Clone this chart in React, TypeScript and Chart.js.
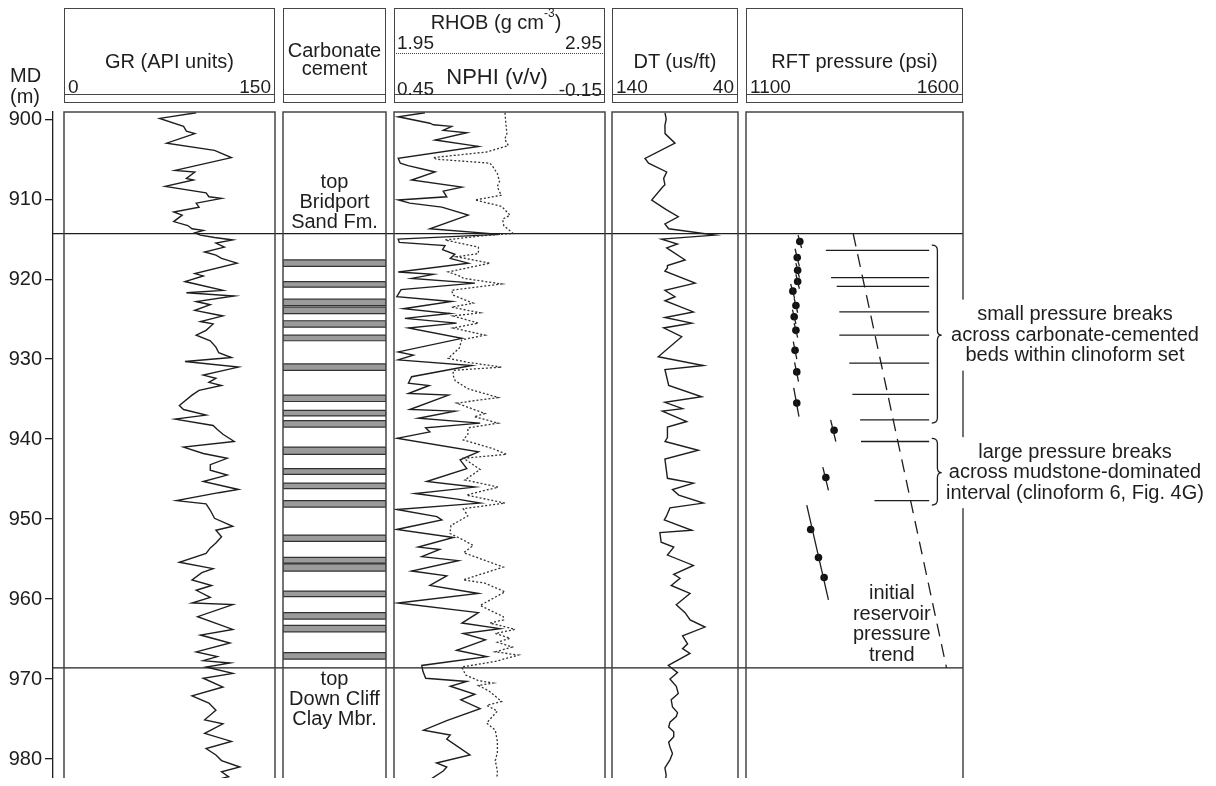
import React, { useEffect, useRef } from "react";
import { Chart, registerables } from "chart.js";

Chart.register(...registerables);

const FONT = '"Liberation Sans", Arial, Helvetica, sans-serif';
Chart.defaults.font.family = FONT;
const INK = "#1e1e1e";
const FRAME = "#454545";

/* ------------------------------------------------------------------ */
/* DATA                                                                */
/* ------------------------------------------------------------------ */
const depthMin = 899.1;
const depthMax = 983.25;
const depthTicks = [900, 910, 920, 930, 940, 950, 960, 970, 980];
const formationTops = [914.3, 968.6];

// [depth m, GR API]
const grLog = [
  [899.2, 94], [899.9, 68], [900.9, 85], [901.5, 87], [901.8, 93], [903.0, 73], [903.9, 107], [904.8, 119], [906.4, 79], [906.6, 93],
  [907.4, 87], [907.6, 92], [908.4, 72], [909.2, 101], [909.7, 103], [909.9, 112], [910.5, 94], [911.0, 96], [911.6, 78], [912.0, 84],
  [912.8, 78], [913.3, 88], [913.7, 91], [913.9, 99], [914.2, 93], [914.5, 97], [914.8, 107], [915.1, 120], [915.5, 108], [916.0, 114],
  [916.6, 100], [917.0, 108], [917.4, 112], [918.0, 123], [919.3, 93], [919.6, 99], [920.3, 86], [921.4, 113], [921.7, 87], [922.1, 121],
  [922.8, 94], [923.2, 104], [923.9, 93], [924.6, 113], [925.3, 97], [925.6, 106], [926.4, 101], [927.0, 94], [927.7, 104], [928.5, 108],
  [929.2, 110], [929.8, 119], [930.3, 86], [931.0, 124], [932.0, 99], [932.4, 108], [932.9, 103], [933.3, 112], [933.9, 96], [934.5, 91],
  [935.8, 82], [936.3, 85], [937.0, 101], [937.5, 79], [938.3, 106], [938.8, 109], [939.4, 113], [940.3, 121], [941.0, 85], [941.8, 99],
  [942.4, 116], [943.2, 104], [943.9, 104], [944.5, 116], [945.3, 99], [946.3, 124], [946.7, 110], [947.7, 80], [948.1, 101], [948.9, 104],
  [949.9, 107], [950.9, 120], [951.4, 108], [952.2, 112], [953.0, 108], [953.6, 104], [954.3, 101], [955.4, 82], [956.2, 106], [956.7, 98],
  [957.6, 91], [958.3, 105], [958.9, 94], [959.8, 104], [960.5, 91], [960.7, 120], [962.2, 95], [963.8, 120], [964.5, 97], [965.5, 118],
  [966.6, 94], [967.2, 109], [967.7, 99], [968.0, 118], [968.5, 101], [969.3, 120], [969.9, 99], [971.0, 113], [972.1, 91], [973.0, 103],
  [973.9, 108], [975.1, 100], [975.6, 113], [976.8, 100], [977.8, 119], [978.7, 101], [979.5, 108], [980.2, 112], [981.0, 125], [981.6, 112],
  [982.2, 117], [982.6, 108], [983.1, 102],
];

// [depth m, NPHI v/v]
const nphiLog = [
  [899.2, 0.362], [899.7, 0.438], [900.5, 0.348], [900.7, 0.338], [900.9, 0.286], [901.4, 0.31], [901.7, 0.243], [902.6, 0.333], [903.4, 0.21], [904.9, 0.438],
  [905.5, 0.432], [905.8, 0.41], [906.6, 0.333], [907.6, 0.4], [908.5, 0.257], [909.0, 0.31], [909.7, 0.3], [910.1, 0.438], [910.5, 0.405], [911.0, 0.314],
  [912.0, 0.239], [913.7, 0.348], [914.4, 0.149], [915.0, 0.438], [915.4, 0.435], [915.8, 0.305], [916.3, 0.312], [916.9, 0.277], [917.4, 0.29], [918.0, 0.239],
  [919.1, 0.438], [919.4, 0.338], [919.9, 0.4], [920.5, 0.22], [921.3, 0.43], [922.2, 0.442], [922.8, 0.286], [923.7, 0.423], [924.3, 0.291], [924.9, 0.419],
  [925.5, 0.272], [926.1, 0.409], [927.4, 0.257], [929.1, 0.438], [929.5, 0.395], [930.1, 0.438], [930.8, 0.229], [932.2, 0.4], [933.0, 0.409], [933.3, 0.35],
  [934.3, 0.409], [934.5, 0.295], [936.3, 0.405], [936.5, 0.277], [937.4, 0.381], [938.0, 0.205], [938.6, 0.36], [939.1, 0.348], [939.9, 0.442], [941.6, 0.21],
  [942.6, 0.262], [943.7, 0.243], [945.3, 0.357], [946.0, 0.22], [946.8, 0.39], [947.5, 0.27], [948.0, 0.205], [948.8, 0.442], [949.7, 0.328], [950.1, 0.314],
  [951.3, 0.442], [952.3, 0.281], [953.5, 0.381], [953.8, 0.32], [954.7, 0.371], [955.2, 0.267], [956.5, 0.4], [957.1, 0.3], [958.3, 0.348], [959.3, 0.21],
  [960.5, 0.438], [961.7, 0.21], [963.0, 0.257], [963.7, 0.149], [964.3, 0.253], [965.1, 0.19], [966.4, 0.272], [967.2, 0.186], [968.3, 0.371], [969.0, 0.368],
  [969.9, 0.36], [970.3, 0.243], [970.9, 0.29], [971.9, 0.22], [972.6, 0.26], [973.7, 0.205], [975.2, 0.3], [976.4, 0.366], [977.0, 0.29], [977.5, 0.3],
  [979.5, 0.234], [980.5, 0.329], [981.0, 0.3], [981.5, 0.31], [983.1, 0.366],
];

// [depth m, RHOB g/cm3]
const rhobLog = [
  [899.2, 2.476], [900.5, 2.48], [901.8, 2.485], [902.5, 2.475], [903.3, 2.492], [904.1, 2.389], [904.8, 2.136], [905.0, 2.15], [905.5, 2.405], [906.0, 2.42],
  [906.8, 2.44], [907.8, 2.45], [908.4, 2.44], [909.0, 2.448], [909.5, 2.46], [910.1, 2.334], [910.9, 2.46], [912.0, 2.5], [912.5, 2.465], [913.3, 2.47],
  [914.3, 2.515], [914.5, 2.397], [915.1, 2.192], [916.0, 2.35], [916.8, 2.35], [917.2, 2.247], [918.0, 2.405], [919.1, 2.207], [919.6, 2.26], [919.9, 2.28],
  [920.6, 2.46], [921.4, 2.223], [922.0, 2.23], [923.0, 2.326], [923.5, 2.223], [924.2, 2.358], [924.6, 2.23], [925.5, 2.35], [926.1, 2.23], [927.0, 2.381],
  [927.6, 2.271], [928.6, 2.26], [929.9, 2.207], [930.4, 2.3], [931.0, 2.46], [931.4, 2.231], [932.0, 2.23], [932.7, 2.24], [933.7, 2.3], [934.8, 2.444],
  [935.5, 2.247], [936.8, 2.381], [937.2, 2.33], [938.0, 2.444], [938.6, 2.3], [939.4, 2.3], [940.1, 2.278], [941.2, 2.42], [941.9, 2.484], [942.4, 2.28],
  [943.8, 2.358], [945.1, 2.286], [946.0, 2.444], [947.0, 2.294], [948.0, 2.476], [948.7, 2.278], [949.6, 2.3], [950.8, 2.22], [951.8, 2.215], [952.5, 2.27],
  [953.3, 2.326], [954.2, 2.28], [956.0, 2.468], [957.6, 2.278], [958.0, 2.38], [959.1, 2.476], [960.8, 2.358], [962.2, 2.468], [962.6, 2.47], [963.0, 2.405],
  [963.8, 2.523], [964.3, 2.43], [964.9, 2.5], [965.4, 2.44], [966.0, 2.51], [966.6, 2.43], [967.0, 2.54], [967.8, 2.43], [968.5, 2.271], [969.5, 2.29],
  [970.2, 2.35], [970.5, 2.42], [970.8, 2.35], [971.5, 2.4], [972.8, 2.46], [973.3, 2.39], [974.0, 2.44], [975.5, 2.389], [976.4, 2.43], [977.8, 2.44],
  [979.2, 2.44], [980.2, 2.43], [981.5, 2.44], [982.6, 2.437], [983.2, 2.44],
];

// [depth m, DT us/ft]
const dtLog = [
  [899.2, 97.9], [900.0, 97], [900.8, 98], [901.8, 97.9], [903.0, 90], [904.9, 113.8], [905.5, 111], [906.6, 96.6], [907.4, 99], [908.2, 98],
  [908.5, 100], [910.1, 108.5], [911.3, 97], [912.2, 87.4], [913.1, 98], [913.7, 95], [914.5, 58.3], [915.0, 100.6], [915.6, 88], [916.1, 96.6],
  [917.6, 82], [918.3, 96], [918.6, 96], [919.0, 98], [920.5, 74], [921.4, 98], [922.2, 90], [922.7, 98], [924.1, 75.4], [924.8, 98],
  [925.5, 76.7], [926.1, 99], [927.2, 84.7], [929.7, 103.3], [930.8, 67.5], [931.3, 98], [933.3, 95], [934.7, 68.8], [935.4, 98], [936.2, 84],
  [936.5, 100], [937.8, 80.7], [938.5, 96], [939.8, 96], [940.3, 97.9], [941.4, 71.5], [942.5, 98], [944.9, 96], [945.5, 75.4], [946.3, 92],
  [947.0, 87], [948.0, 67.5], [948.6, 94], [949.7, 97], [950.1, 98.5], [951.4, 76.7], [951.7, 102], [952.9, 101], [953.5, 91], [954.5, 96],
  [955.8, 75.4], [956.9, 91], [957.4, 86], [958.3, 93], [959.3, 78.1], [960.7, 89], [961.7, 82], [962.6, 78], [963.5, 66.2], [964.6, 84],
  [965.6, 80], [966.2, 84], [966.8, 78.1], [968.3, 95.3], [969.2, 88], [970.0, 94], [970.9, 89], [971.8, 87.4], [972.6, 93], [973.5, 92],
  [974.2, 88], [974.7, 89], [975.4, 94], [976.0, 95], [976.6, 91], [977.2, 91], [977.9, 95], [978.5, 94], [979.3, 92], [980.1, 94],
  [980.6, 96], [981.1, 98], [982.0, 97], [983.2, 98],
];

// carbonate-cemented beds [top, base] m
const cementBeds = [
  [917.6, 918.4], [920.3, 921.0], [922.5, 923.3], [923.5, 924.3], [925.2, 926.0], [927.0, 927.7], [930.6, 931.4],
  [934.5, 935.3], [936.4, 937.1], [937.7, 938.5], [941.0, 941.9], [943.7, 944.4], [945.5, 946.2], [947.7, 948.5],
  [952.0, 952.8], [954.8, 955.5], [955.6, 956.5], [959.0, 959.7], [961.7, 962.5], [963.3, 964.1], [966.7, 967.5],
];

// RFT measurements [depth m, pressure psi]
const rftPoints = [
  [915.3, 1224], [917.3, 1218], [918.9, 1219], [920.3, 1219], [921.5, 1208], [923.3, 1215], [924.7, 1211], [926.4, 1215],
  [928.9, 1213], [931.6, 1217], [935.5, 1217], [938.9, 1303], [944.8, 1284], [951.3, 1249], [954.8, 1267], [957.3, 1280],
];
// local pressure gradients [topDepth, topP, baseDepth, baseP]
const rftGradients = [
  [914.5, 1220, 916.1, 1228], [916.2, 1213, 918.4, 1223], [918.0, 1215, 919.8, 1223], [919.4, 1215, 921.2, 1223],
  [920.6, 1203, 922.4, 1212], [922.4, 1211, 924.2, 1219], [923.8, 1207, 925.6, 1215], [925.5, 1211, 927.3, 1219],
  [927.8, 1209, 930.0, 1217], [930.4, 1212, 932.8, 1221], [933.6, 1210, 937.2, 1222], [937.6, 1295, 940.3, 1307],
  [943.5, 1277, 946.4, 1290], [948.25, 1240, 960.1, 1290],
];
// pressure breaks [depth m, start psi]
const pressureBreaks = [
  [916.4, 1284], [919.8, 1296], [920.9, 1309], [924.1, 1315], [927.0, 1315],
  [930.5, 1338], [934.4, 1345], [937.6, 1363], [940.3, 1365], [947.7, 1396],
];
const breakEndPressure = 1522;
// initial reservoir pressure trend [depth m, psi]
const initialTrend = [[914.3, 1347], [968.6, 1562]];

// annotation anchors
const bracketSpans = [[915.75, 927.0, 938.0], [939.9, 944.2, 948.25]];
const bracketNotes = [
  ["small pressure breaks", "across carbonate-cemented", "beds within clinoform set"],
  ["large pressure breaks", "across mudstone-dominated", "interval (clinoform 6, Fig. 4G)"],
];
const trendNote = ["initial", "reservoir", "pressure", "trend"];
const formationLabels = [
  { depth: 910.4, lines: ["top", "Bridport", "Sand Fm."] },
  { depth: 972.6, lines: ["top", "Down Cliff", "Clay Mbr."] },
];

/* ------------------------------------------------------------------ */
/* LAYOUT (page px)                                                    */
/* ------------------------------------------------------------------ */
const OFF = 8;
const TRACK_TOP = 112;
const TRACK_BOTTOM = 785;
const HEADER_TOP = 8;
const HEADER_BOTTOM = 103;
const HEADER_INNER = 95;
const AXIS_X = 53;
const RIGHT_EDGE = 963;
const T_GR: [number, number] = [64, 275];
const T_CARB: [number, number] = [283, 386];
const T_RHOB: [number, number] = [394, 605];
const T_DT: [number, number] = [612, 738];
const T_RFT: [number, number] = [746, 963];
const BRACKET_HOOK_P = 1528;
const BRACKET_SPINE_P = 1541;
const BRACKET_NUB_P = 1551;
const NOTE_CENTER_P = 1858;
const TREND_NOTE_P = 1436;
const TREND_NOTE_DEPTH = 963.15;
const NOTE_LINE = 20.5;

const toXY = (pairs: number[][]) => pairs.map(([d, v]) => ({ x: v, y: d }));

const framePlugin = {
  id: "frame",
  afterDatasetsDraw(chart: any) {
    const { ctx, chartArea: a } = chart;
    ctx.save();
    ctx.strokeStyle = FRAME;
    ctx.lineWidth = 1.5;
    ctx.strokeRect(a.left, a.top, a.right - a.left, a.bottom - a.top);
    ctx.restore();
  },
};

const carbLabelsPlugin = {
  id: "carbLabels",
  afterDraw(chart: any) {
    const { ctx, chartArea: a, scales } = chart;
    ctx.save();
    ctx.font = `20px ${FONT}`;
    ctx.fillStyle = INK;
    ctx.textAlign = "center";
    ctx.textBaseline = "middle";
    const cx = (a.left + a.right) / 2;
    formationLabels.forEach(({ depth, lines }) => {
      const ym = scales.y.getPixelForValue(depth);
      lines.forEach((t, k) => ctx.fillText(t, cx, ym + (k - (lines.length - 1) / 2) * 20));
    });
    ctx.restore();
  },
};

const rftNotesPlugin = {
  id: "rftNotes",
  afterDraw(chart: any) {
    const { ctx, scales } = chart;
    const xs = scales.x;
    const ys = scales.y;
    ctx.save();
    ctx.font = `20px ${FONT}`;
    ctx.textAlign = "center";
    ctx.textBaseline = "middle";
    ctx.lineWidth = 1.3;
    ctx.strokeStyle = INK;
    const xl = xs.getPixelForValue(BRACKET_HOOK_P);
    const xm = xs.getPixelForValue(BRACKET_SPINE_P);
    const xn = xs.getPixelForValue(BRACKET_NUB_P);
    const cx = xs.getPixelForValue(NOTE_CENTER_P);
    bracketSpans.forEach(([top, mid, base], i) => {
      const yt = ys.getPixelForValue(top);
      const ym = ys.getPixelForValue(mid);
      const yb = ys.getPixelForValue(base);
      const r = 5;
      ctx.beginPath();
      ctx.moveTo(xl, yt);
      ctx.quadraticCurveTo(xm, yt, xm, yt + r);
      ctx.lineTo(xm, ym - r);
      ctx.quadraticCurveTo(xm, ym, xn, ym);
      ctx.quadraticCurveTo(xm, ym, xm, ym + r);
      ctx.lineTo(xm, yb - r);
      ctx.quadraticCurveTo(xm, yb, xl, yb);
      ctx.stroke();
      const lines = bracketNotes[i];
      const w = Math.max(...lines.map((l) => ctx.measureText(l).width));
      const y0 = ym - (NOTE_LINE * (lines.length - 1)) / 2;
      ctx.fillStyle = "#fff";
      ctx.fillRect(cx - w / 2 - 4, y0 - 15, w + 8, NOTE_LINE * (lines.length - 1) + 30);
      ctx.fillStyle = INK;
      lines.forEach((l, k) => ctx.fillText(l, cx, y0 + k * NOTE_LINE));
    });
    const tx = xs.getPixelForValue(TREND_NOTE_P);
    const tc = ys.getPixelForValue(TREND_NOTE_DEPTH);
    const t0 = tc - (NOTE_LINE * (trendNote.length - 1)) / 2;
    ctx.fillStyle = INK;
    trendNote.forEach((l, k) => ctx.fillText(l, tx, t0 + k * NOTE_LINE));
    ctx.restore();
  },
};

const yDepth = { type: "linear", reverse: true, min: depthMin, max: depthMax, display: false };

function baseOptions(pad: any, xScales: any) {
  return {
    responsive: false,
    animation: false,
    events: [],
    layout: { padding: pad, autoPadding: false },
    plugins: { legend: { display: false }, tooltip: { enabled: false } },
    scales: { ...xScales, y: yDepth },
  };
}

const curve = (data: any, extra: any = {}) => ({
  data,
  showLine: true,
  borderColor: INK,
  borderWidth: 1.4,
  pointRadius: 0,
  tension: 0,
  fill: false,
  ...extra,
});

/* ------------------------------------------------------------------ */
/* CHART CONFIGS                                                       */
/* ------------------------------------------------------------------ */
const BASE_W = 1200;
const BASE_H = 778;

function depthAxisConfig() {
  return {
    type: "line",
    data: {
      datasets: formationTops.map((d) =>
        curve([{ x: 0, y: d }, { x: 1, y: d }], { borderWidth: 1.3 })
      ),
    },
    options: {
      responsive: false,
      animation: false,
      events: [],
      layout: {
        autoPadding: false,
        padding: {
          left: 0,
          top: TRACK_TOP - OFF,
          right: BASE_W - (RIGHT_EDGE - OFF),
          bottom: BASE_H - (TRACK_BOTTOM - OFF),
        },
      },
      plugins: { legend: { display: false }, tooltip: { enabled: false } },
      scales: {
        x: { type: "linear", min: 0, max: 1, display: false },
        y: {
          type: "linear",
          position: "left",
          reverse: true,
          min: depthMin,
          max: depthMax,
          afterFit: (s: any) => {
            s.width = AXIS_X - OFF;
            s.paddingTop = 0;
            s.paddingBottom = 0;
          },
          afterBuildTicks: (s: any) => {
            s.ticks = depthTicks.map((v) => ({ value: v }));
          },
          ticks: { color: INK, font: { size: 20, family: FONT }, padding: 3 },
          grid: { drawOnChartArea: false, drawTicks: true, tickLength: 8, color: INK, lineWidth: 1.3 },
          border: { display: true, color: INK, width: 1.3 },
        },
      },
    },
  };
}

const PAD = { left: 2, right: 2, top: 2, bottom: 2 };

function grConfig() {
  return {
    type: "scatter",
    data: { datasets: [curve(toXY(grLog))] },
    options: baseOptions(PAD, { x: { type: "linear", min: 0, max: 150, display: false } }),
    plugins: [framePlugin],
  };
}

function carbConfig() {
  return {
    type: "line",
    data: {
      datasets: cementBeds.map(([t, b]) =>
        curve(
          [{ x: 0, y: t }, { x: 1, y: t }, { x: 1, y: b }, { x: 0, y: b }, { x: 0, y: t }],
          { fill: "shape", backgroundColor: "#9b9b9b", borderColor: "#333", borderWidth: 1.2 }
        )
      ),
    },
    options: baseOptions(PAD, { x: { type: "linear", min: 0, max: 1, display: false } }),
    plugins: [framePlugin, carbLabelsPlugin],
  };
}

function rhobConfig() {
  return {
    type: "scatter",
    data: {
      datasets: [
        curve(toXY(rhobLog), { xAxisID: "xr", borderDash: [2, 2], borderWidth: 1.3, borderColor: "#333" }),
        curve(toXY(nphiLog), { xAxisID: "xn" }),
      ],
    },
    options: baseOptions(PAD, {
      xr: { type: "linear", axis: "x", min: 1.95, max: 2.95, display: false },
      xn: { type: "linear", axis: "x", min: -0.15, max: 0.45, reverse: true, display: false },
    }),
    plugins: [framePlugin],
  };
}

function dtConfig() {
  return {
    type: "scatter",
    data: { datasets: [curve(toXY(dtLog))] },
    options: baseOptions(PAD, { x: { type: "linear", min: 40, max: 140, reverse: true, display: false } }),
    plugins: [framePlugin],
  };
}

const RFT_EXTRA = 1214 - T_RFT[1];

function rftConfig() {
  const datasets: any[] = [];
  pressureBreaks.forEach(([d, p]) =>
    datasets.push(curve([{ x: p, y: d }, { x: breakEndPressure, y: d }], { borderWidth: 1.3 }))
  );
  datasets.push(curve(toXY(initialTrend), { borderDash: [13, 8], borderWidth: 1.3 }));
  rftGradients.forEach(([d1, p1, d2, p2]) =>
    datasets.push(curve([{ x: p1, y: d1 }, { x: p2, y: d2 }], { borderWidth: 1.3 }))
  );
  datasets.push({
    data: toXY(rftPoints),
    showLine: false,
    pointRadius: 3.8,
    pointBackgroundColor: "#111",
    pointBorderWidth: 0,
  });
  return {
    type: "scatter",
    data: { datasets },
    options: baseOptions(
      { left: 2, right: 2 + RFT_EXTRA, top: 2, bottom: 2 },
      { x: { type: "linear", min: 1100, max: 1600, display: false } }
    ),
    plugins: [framePlugin, rftNotesPlugin],
  };
}

/* ------------------------------------------------------------------ */
/* COMPONENTS                                                          */
/* ------------------------------------------------------------------ */
function ChartCanvas({ left, top, width, height, make }: any) {
  const ref = useRef<HTMLCanvasElement | null>(null);
  useEffect(() => {
    const chart = new Chart(ref.current as HTMLCanvasElement, make());
    return () => chart.destroy();
  }, []);
  return (
    <canvas
      ref={ref}
      width={width}
      height={height}
      style={{ position: "absolute", left: left - OFF, top: top - OFF, width, height }}
    />
  );
}

function TrackCanvas({ track, make, extra = 0 }: any) {
  const [x0, x1] = track;
  return (
    <ChartCanvas
      left={x0 - 2}
      top={TRACK_TOP - 2}
      width={x1 - x0 + 4 + extra}
      height={TRACK_BOTTOM - TRACK_TOP + 4}
      make={make}
    />
  );
}

function HeaderBox({ track }: any) {
  const [x0, x1] = track;
  return (
    <div
      style={{
        position: "absolute",
        left: x0 - OFF,
        top: HEADER_TOP - OFF,
        width: x1 - x0,
        height: HEADER_BOTTOM - HEADER_TOP,
        border: `1.5px solid ${FRAME}`,
        boxSizing: "border-box",
      }}
    >
      <div
        style={{
          position: "absolute",
          left: 0,
          right: 0,
          top: HEADER_INNER - HEADER_TOP - 2,
          borderTop: `1.5px solid ${FRAME}`,
        }}
      />
    </div>
  );
}

function Label({ x, y, align = "center", size = 20, children }: any) {
  const tx = align === "center" ? "-50%" : align === "right" ? "-100%" : "0";
  return (
    <div
      style={{
        position: "absolute",
        left: x - OFF,
        top: y - OFF - size / 2,
        height: size,
        lineHeight: `${size}px`,
        fontSize: size,
        fontFamily: FONT,
        color: INK,
        whiteSpace: "nowrap",
        transform: `translateX(${tx})`,
      }}
    >
      {children}
    </div>
  );
}

export default function App() {
  useEffect(() => {
    document.documentElement.style.overflow = "hidden";
    document.body.style.overflow = "hidden";
  }, []);
  return (
    <div style={{ position: "relative", width: 1200, height: 770, fontFamily: FONT, color: INK }}>
      <ChartCanvas left={8} top={8} width={BASE_W} height={BASE_H} make={depthAxisConfig} />

      <HeaderBox track={T_GR} />
      <HeaderBox track={T_CARB} />
      <HeaderBox track={T_RHOB} />
      <HeaderBox track={T_DT} />
      <HeaderBox track={T_RFT} />
      <div
        style={{
          position: "absolute",
          left: T_RHOB[0] - OFF,
          width: T_RHOB[1] - T_RHOB[0],
          top: 53 - OFF,
          borderTop: `1.5px dotted ${FRAME}`,
        }}
      />

      <Label x={10} y={75} align="left">MD</Label>
      <Label x={10} y={96} align="left">(m)</Label>

      <Label x={(T_GR[0] + T_GR[1]) / 2} y={61}>GR (API units)</Label>
      <Label x={T_GR[0] + 4} y={86.5} align="left" size={19}>0</Label>
      <Label x={T_GR[1] - 4} y={86.5} align="right" size={19}>150</Label>

      <Label x={(T_CARB[0] + T_CARB[1]) / 2} y={50}>Carbonate</Label>
      <Label x={(T_CARB[0] + T_CARB[1]) / 2} y={68}>cement</Label>

      <Label x={496} y={21.5}>
        RHOB (g cm<sup style={{ fontSize: 12, lineHeight: "12px", verticalAlign: "top", position: "relative", top: -5 }}>-3</sup>)
      </Label>
      <Label x={T_RHOB[0] + 3} y={42.5} align="left" size={19}>1.95</Label>
      <Label x={T_RHOB[1] - 3} y={42.5} align="right" size={19}>2.95</Label>
      <Label x={497} y={76.5} size={22}>NPHI (v/v)</Label>
      <Label x={T_RHOB[0] + 3} y={88.5} align="left" size={19}>0.45</Label>
      <Label x={T_RHOB[1] - 3} y={89.5} align="right" size={19}>-0.15</Label>

      <Label x={(T_DT[0] + T_DT[1]) / 2} y={61}>DT (us/ft)</Label>
      <Label x={T_DT[0] + 4} y={86.5} align="left" size={19}>140</Label>
      <Label x={T_DT[1] - 4} y={86.5} align="right" size={19}>40</Label>

      <Label x={(T_RFT[0] + T_RFT[1]) / 2} y={61}>RFT pressure (psi)</Label>
      <Label x={T_RFT[0] + 4} y={86.5} align="left" size={19}>1100</Label>
      <Label x={T_RFT[1] - 4} y={86.5} align="right" size={19}>1600</Label>

      <TrackCanvas track={T_GR} make={grConfig} />
      <TrackCanvas track={T_CARB} make={carbConfig} />
      <TrackCanvas track={T_RHOB} make={rhobConfig} />
      <TrackCanvas track={T_DT} make={dtConfig} />
      <TrackCanvas track={T_RFT} make={rftConfig} extra={RFT_EXTRA} />
    </div>
  );
}
